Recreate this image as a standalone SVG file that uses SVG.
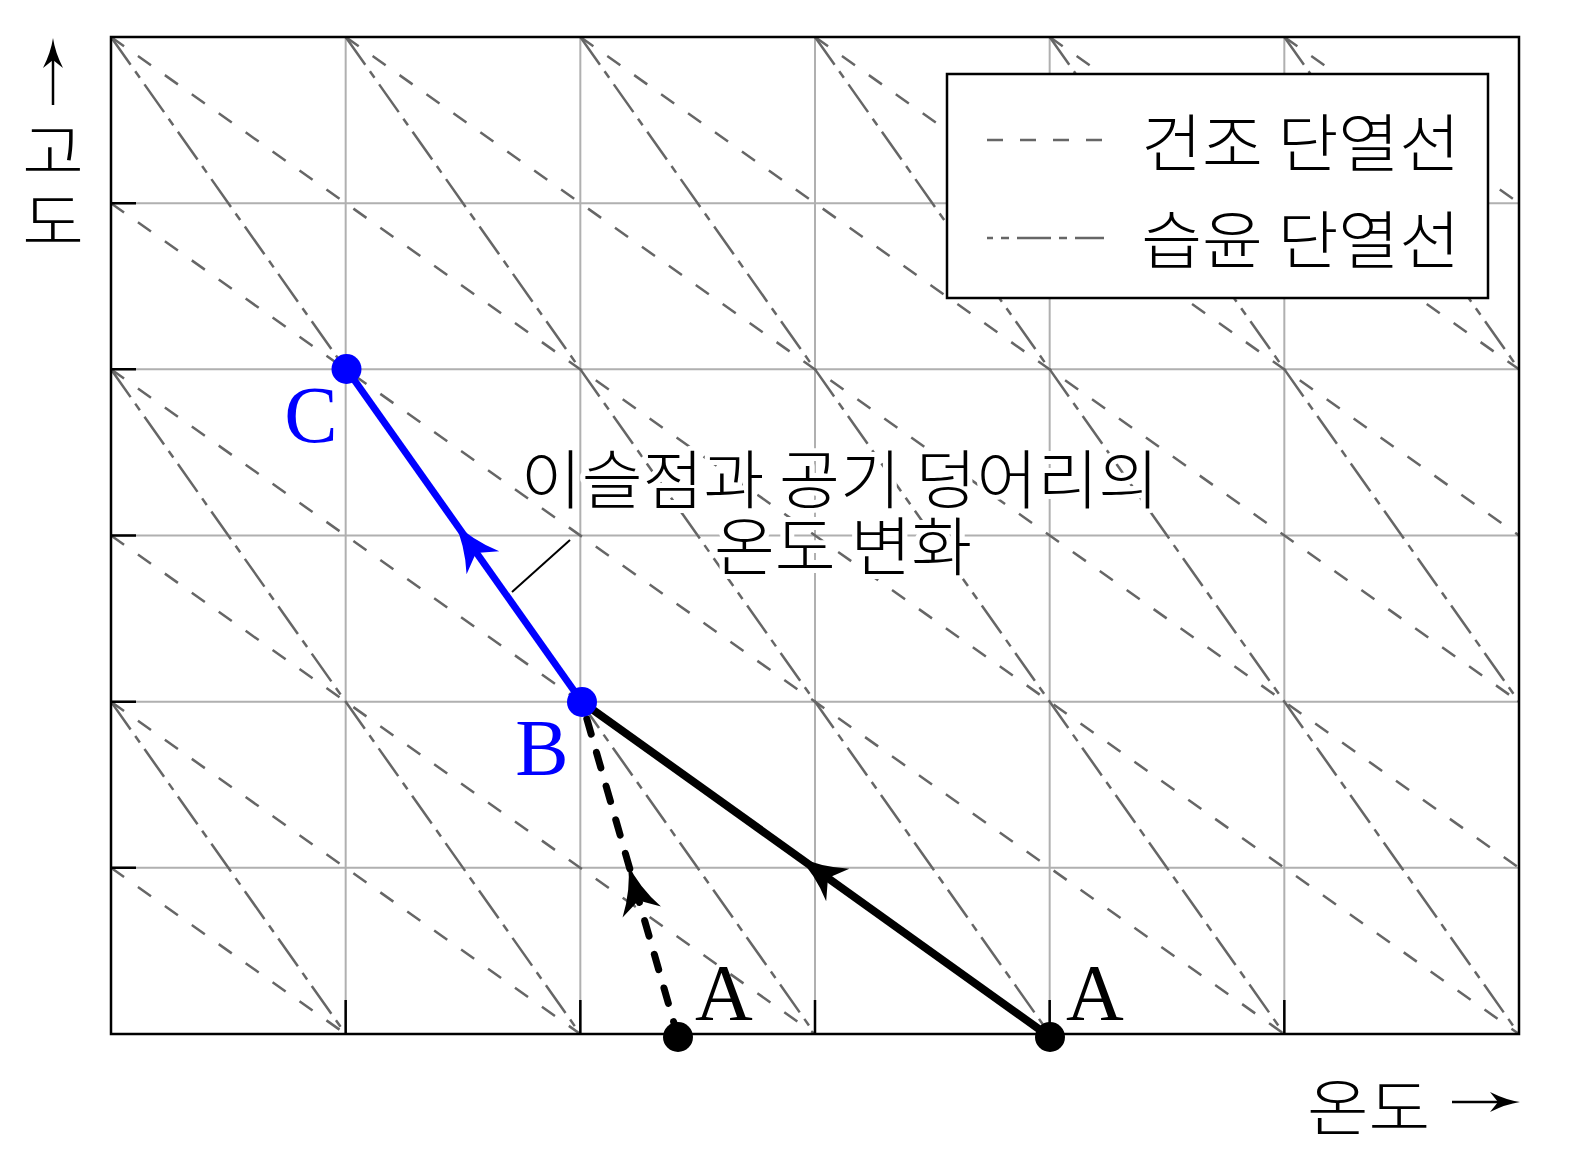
<svg xmlns="http://www.w3.org/2000/svg" xmlns:xlink="http://www.w3.org/1999/xlink" width="1571" height="1164" viewBox="0 0 1571 1164">
<style>
.grid{stroke:#b0b0b0;stroke-width:2;fill:none}
.dry{stroke:#666;stroke-width:2.5;fill:none;stroke-dasharray:16 17}
.moist{stroke:#666;stroke-width:2.5;fill:none;stroke-dasharray:34 8 8 8}
.frame{stroke:#000;stroke-width:2.5;fill:none}
.tick{stroke:#000;stroke-width:2.5}
.kr{font-family:"Noto Sans CJK KR","Noto Sans",sans-serif;font-weight:300;fill:#000}
.halo{paint-order:stroke;stroke:#fff;stroke-width:10;stroke-linejoin:round}
.lat{font-family:"Liberation Serif","DejaVu Serif",serif;font-size:80px}
</style>
<defs>
<clipPath id="plot"><rect x="111" y="37" width="1408" height="997"/></clipPath>
<path id="ah" d="M0,0 Q-25,4 -50,20 L-38,0 L-50,-20 Q-25,-4 0,0 Z"/>
<path id="sah" d="M0,0 Q-14,2 -30,10 L-22,0 L-30,-10 Q-14,-2 0,0 Z"/>
</defs>
<rect width="1571" height="1164" fill="#fff"/>
<g id="grid">
<path class="grid" d="M345.67,37V1034M580.33,37V1034M815,37V1034M1049.67,37V1034M1284.33,37V1034M111,867.83H1519M111,701.67H1519M111,535.5H1519M111,369.33H1519M111,203.17H1519"/>
</g>
<g id="dry-adiabats" clip-path="url(#plot)">
<path class="dry" d="M111,867.83L345.67,1034"/>
<path class="dry" d="M111,701.67L580.33,1034"/>
<path class="dry" d="M111,535.5L815,1034"/>
<path class="dry" d="M111,369.33L1049.67,1034"/>
<path class="dry" d="M111,203.17L1284.33,1034"/>
<path class="dry" d="M111,37L1519,1034"/>
<path class="dry" d="M345.67,37L1519,867.83"/>
<path class="dry" d="M580.33,37L1519,701.67"/>
<path class="dry" d="M815,37L1519,535.5"/>
<path class="dry" d="M1049.67,37L1519,369.33"/>
<path class="dry" d="M1284.33,37L1519,203.17"/>
</g>
<g id="moist-adiabats" clip-path="url(#plot)">
<path class="moist" d="M111,701.67L345.67,1034"/>
<path class="moist" d="M111,369.33L580.33,1034"/>
<path class="moist" d="M111,37L815,1034"/>
<path class="moist" d="M345.67,37L1049.67,1034"/>
<path class="moist" d="M580.33,37L1284.33,1034"/>
<path class="moist" d="M815,37L1519,1034"/>
<path class="moist" d="M1049.67,37L1519,701.67"/>
<path class="moist" d="M1284.33,37L1519,369.33"/>
</g>
<g id="axes">
<rect class="frame" x="111" y="37" width="1408" height="997"/>
<path class="tick" d="M111,203.17H136M111,369.33H136M111,535.5H136M111,701.67H136M111,867.83H136M345.67,1034V1000M580.33,1034V1000M815,1034V1000M1049.67,1034V1000M1284.33,1034V1000"/>
</g>
<g id="y-label">
<line x1="53" y1="105" x2="53" y2="60" stroke="#000" stroke-width="2.5"/>
<use xlink:href="#sah" transform="translate(53,38) rotate(-90)"/>
<text class="kr" font-size="62" text-anchor="middle" transform="translate(53,0) scale(1.08,1)"><tspan x="0" y="175">고</tspan><tspan x="0" y="245">도</tspan></text>
</g>
<g id="x-label">
<text class="kr" font-size="62" transform="translate(1307,1131) scale(1.08,1)">온도</text>
<line x1="1452" y1="1102" x2="1500" y2="1102" stroke="#000" stroke-width="2.5"/>
<use xlink:href="#sah" transform="translate(1520,1102)"/>
</g>
<g id="legend">
<rect x="947" y="74" width="541" height="224" fill="#fff" stroke="#000" stroke-width="2.5"/>
<line class="dry" x1="987" y1="140" x2="1104" y2="140"/>
<line class="moist" x1="987" y1="238" x2="1104" y2="238" stroke-dashoffset="-30"/>
<text class="kr" font-size="63" text-anchor="end" transform="translate(1460,166) scale(1.05,1)">건조 단열선</text>
<text class="kr" font-size="63" text-anchor="end" transform="translate(1460,263) scale(1.05,1)">습윤 단열선</text>
</g>
<g id="annotation">
<text class="kr halo" font-size="64" text-anchor="middle" transform="translate(840,0) scale(1.035,1)"><tspan x="0" y="503">이슬점과 공기 덩어리의</tspan><tspan x="3" y="570">온도 변화</tspan></text>
<line x1="512" y1="592" x2="570" y2="540" stroke="#000" stroke-width="2"/>
</g>
<g id="connectors">
<line x1="582" y1="702" x2="1050" y2="1037" stroke="#000" stroke-width="8"/>
<use xlink:href="#ah" transform="translate(797,856) rotate(-144.6)"/>
<line x1="678" y1="1037" x2="582" y2="702" stroke="#000" stroke-width="7" stroke-dasharray="16 19" stroke-linecap="round"/>
<use xlink:href="#ah" transform="translate(628,864) rotate(-106)"/>
<line x1="582" y1="702" x2="346.5" y2="369" stroke="#00f" stroke-width="7"/>
<use xlink:href="#ah" fill="#00f" transform="translate(454,522) rotate(-125.3)"/>
</g>
<g id="node-A1"><circle cx="678" cy="1037" r="15" fill="#000"/><text class="lat" x="724" y="1020" text-anchor="middle">A</text></g>
<g id="node-A2"><circle cx="1050" cy="1037" r="15" fill="#000"/><text class="lat" x="1095" y="1020" text-anchor="middle">A</text></g>
<g id="node-B"><circle cx="582" cy="702" r="15" fill="#00f"/><text class="lat" x="542" y="775" text-anchor="middle" fill="#00f">B</text></g>
<g id="node-C"><circle cx="346.5" cy="369" r="15" fill="#00f"/><text class="lat" x="311" y="442" text-anchor="middle" fill="#00f">C</text></g>
</svg>
